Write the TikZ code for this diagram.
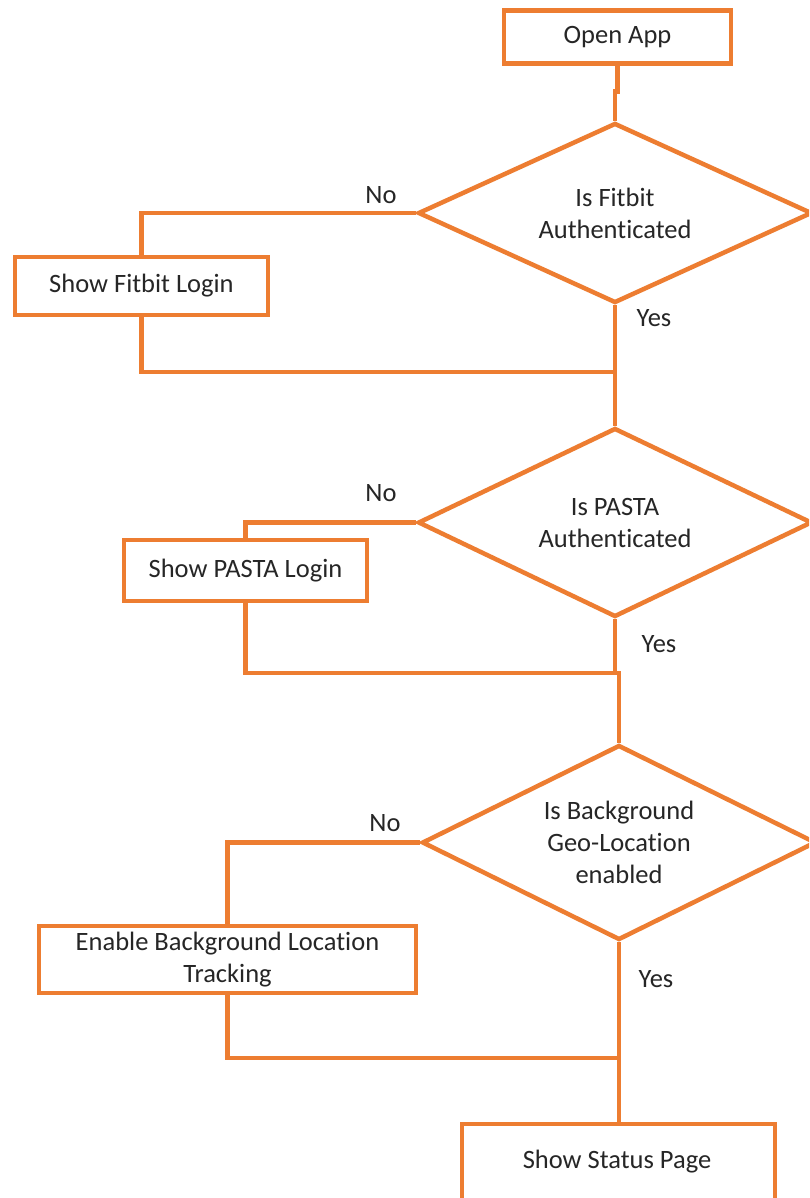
\documentclass[tikz,border=0pt]{standalone}
\usepackage{fontspec}
\setmainfont{Carlito}[Ligatures=NoCommon]
\usetikzlibrary{shapes.geometric}
\definecolor{ofc}{HTML}{ED7D31}
\begin{document}
\begin{tikzpicture}[x=1pt,y=-1pt,
  every node/.style={font=\fontsize{26.5}{32}\selectfont, text=black!85},
  box/.style={draw=ofc, line width=4.5pt, rectangle, inner sep=0pt, align=center},
  dec/.style={draw=ofc, line width=4.5pt, diamond, aspect=2.1, inner sep=0pt, align=center},
  conn/.style={draw=ofc, line width=4.5pt},
  lbl/.style={inner sep=0pt}]
\clip (0,0) rectangle (809,1198);
\fill[white] (0,0) rectangle (809,1198);
% nodes
\node[box, minimum width=227pt, minimum height=53pt] (open) at (617.5,37) {Open App};
\node[dec, minimum width=394pt, minimum height=180pt] (d1) at (615,213) {Is Fitbit\\Authenticated};
\node[box, minimum width=253pt, minimum height=58pt] (fitbit) at (141.5,286) {Show Fitbit Login};
\node[dec, minimum width=394pt, minimum height=189pt] (d2) at (615,522.5) {Is PASTA\\Authenticated};
\node[box, minimum width=243pt, minimum height=61pt] (pasta) at (245.5,570.5) {Show PASTA Login};
\node[dec, minimum width=394pt, minimum height=195pt] (d3) at (619,842.5) {Is Background\\Geo-Location\\enabled};
\node[box, minimum width=377pt, minimum height=67pt] (enable) at (227.5,959.5) {Enable Background Location\\Tracking};
\node[box, minimum width=313pt, minimum height=120pt] (status) at (618.5,1184) {};
\node[lbl] (statustxt) at (617,1162) {Show Status Page};
% junction points
\coordinate (j1) at (615,372);
\coordinate (j2) at (615,673);
\coordinate (j3) at (619,1058);
% connectors
\draw[conn] (open.south) -- ++(0,26) -| (d1.north);
\draw[conn] (d1.west) -| (fitbit.north);
\draw[conn] (fitbit.south) |- (j1);
\draw[conn] (d1.south) -- (d2.north);
\draw[conn] (d2.west) -| (pasta.north);
\draw[conn] (pasta.south) |- (j2);
\draw[conn] (d2.south) -- (j2) -| (d3.north);
\draw[conn] (d3.west) -| (enable.north);
\draw[conn] (enable.south) |- (j3);
\draw[conn] (d3.south) -- (d3.south |- status.north);
% labels
\node[lbl] (no1) at (381,195) {No};
\node[lbl] (yes1) at (654,318) {Yes};
\node[lbl] (no2) at (381,493) {No};
\node[lbl] (yes2) at (659,644) {Yes};
\node[lbl] (no3) at (385,823) {No};
\node[lbl] (yes3) at (656,979) {Yes};
\end{tikzpicture}
\end{document}
